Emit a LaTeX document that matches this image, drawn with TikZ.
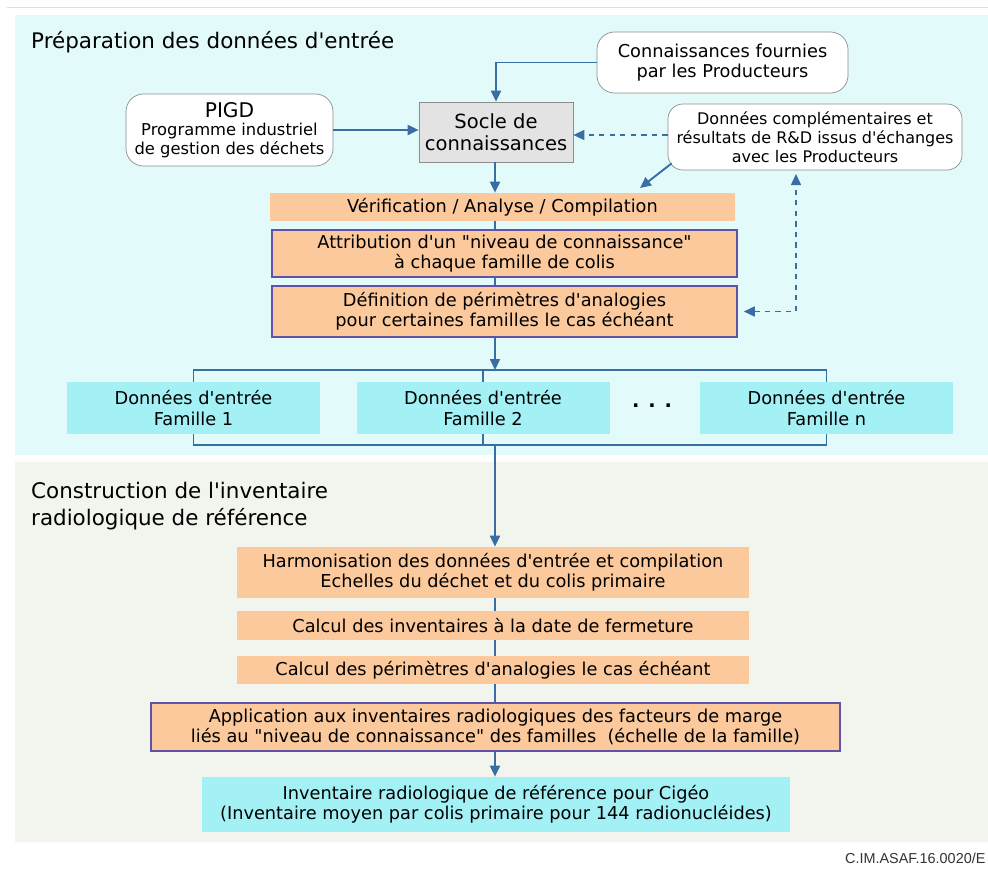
\documentclass[tikz,border=0pt]{standalone}
\usepackage{fontspec}
\setmainfont{DejaVu Sans}[Ligatures=TeXOff]
\setsansfont{Liberation Sans}
\definecolor{flowblue}{rgb}{0.22, 0.43, 0.64}
\definecolor{panelcyan}{rgb}{0.89, 0.98, 0.98}
\definecolor{panelgrey}{rgb}{0.95, 0.96, 0.93}
\definecolor{stepfill}{rgb}{0.99, 0.79, 0.61}
\definecolor{datafill}{rgb}{0.64, 0.94, 0.96}
\definecolor{edgepurple}{rgb}{0.38, 0.32, 0.66}
\usetikzlibrary{arrows.meta,positioning}
\tikzset{
	source/.style={
		rectangle,
		rounded corners=3.5mm,
		draw=black!45,
		fill=white,
		align=center,
		font=\fontsize{10.1}{11.6}\selectfont
	},
	socle/.style={
		rectangle,
		draw=black!45,
		fill=black!11,
		align=center,
		minimum width=3cm,
		minimum height=1.2cm,
		font=\fontsize{11.1}{12.8}\selectfont
	},
	stepbox/.style={
		rectangle,
		fill=stepfill,
		align=center,
		inner sep=0pt,
		font=\fontsize{10.1}{11.6}\selectfont
	},
	framed/.style={
		stepbox,
		draw=edgepurple,
		line width=0.9pt
	},
	databox/.style={
		rectangle,
		fill=datafill,
		align=center,
		inner sep=0pt,
		font=\fontsize{10.1}{11.6}\selectfont
	},
	arrow/.style={
		draw=flowblue,
		line width=1.1pt,
		-{Triangle[length=2.2mm,width=2mm]}
	},
	dasharrow/.style={
		arrow,
		dashed,
		line width=0.9pt
	},
	link/.style={
		draw=flowblue,
		line width=0.9pt
	},
	title/.style={
		anchor=west,
		align=left,
		font=\fontsize{12.2}{15.4}\selectfont
	},
}

\begin{document}
\begin{tikzpicture}
	\useasboundingbox (0,0) rectangle (19.76,-17.4);
	\fill[panelcyan] (0.3,-0.3) rectangle (19.76,-9.1);
	\fill[panelgrey] (0.3,-9.24) rectangle (19.76,-16.84);
	\draw[black!12] (0.15,-0.15) -- (19.76,-0.15);

	% preparation des donnees
	\node (titreprep) [title] at (0.5,-0.84) {Préparation des données d'entrée};
	\node (conn) [source,minimum width=5.02cm,minimum height=1.22cm] at (14.45,-1.25) {Connaissances fournies\\par les Producteurs};
	\node (socle) [socle] at (9.92,-2.64) {Socle de\\connaissances};
	\node (pigd) [source,minimum width=4.14cm,minimum height=1.44cm,font=\fontsize{9.3}{10.6}\selectfont] at (4.59,-2.6) {{\fontsize{11.5}{12.4}\selectfont PIGD}\\Programme industriel\\de gestion des déchets};
	\node (compl) [source,minimum width=5.88cm,minimum height=1.32cm,rounded corners=3mm,font=\fontsize{9.1}{10.8}\selectfont] at (16.3,-2.74) {Données complémentaires et\\résultats de R\&D issus d'échanges\\avec les Producteurs};
	\node (verif) [stepbox,minimum width=9.3cm,minimum height=0.56cm] at (10.05,-4.14) {Vérification / Analyse / Compilation};
	\node (attrib) [framed,minimum width=9.3cm,minimum height=0.94cm] at (10.09,-5.07) {Attribution d'un "niveau de connaissance"\\à chaque famille de colis};
	\node (defin) [framed,minimum width=9.3cm,minimum height=1.02cm] at (10.09,-6.23) {Définition de périmètres d'analogies\\pour certaines familles le cas échéant};

	\draw [arrow] (conn.west) -| (socle.north);
	\draw [arrow] (pigd.east) -- (pigd.east -| socle.west);
	\draw [dasharrow] (compl.west |- 0,-2.7) -- (socle.east |- 0,-2.7);
	\coordinate (tipverif) at (12.8,-3.76);
	\draw [arrow] ([xshift=0.08cm,yshift=0.14cm]compl.south west) -- (tipverif);
	\draw [arrow] (socle.south -| 9.9,0) -- (verif.north -| 9.9,0);
	\draw [link] (verif.south -| 9.9,0) -- (attrib.north -| 9.9,0);
	\draw [link] (attrib.south -| 9.9,0) -- (defin.north -| 9.9,0);
	\coordinate (retour) at (15.92,-3.48);
	\draw [dasharrow,{Triangle[length=2.2mm,width=2mm]}-{Triangle[length=2.2mm,width=2mm]},shorten <=1.2mm] (defin.east) -| (retour);

	% familles de colis
	\node (fam1) [databox,minimum width=5.06cm,minimum height=1.04cm] at (3.87,-8.16) {Données d'entrée\\Famille 1};
	\node (fam2) [databox,minimum width=5.06cm,minimum height=1.04cm] at (9.66,-8.16) {Données d'entrée\\Famille 2};
	\node (famn) [databox,minimum width=5.06cm,minimum height=1.04cm] at (16.53,-8.16) {Données d'entrée\\Famille n};
	\node (dots) at (13.04,-8.12) {\bfseries\fontsize{11}{12}\selectfont . . .};

	\coordinate (haut) at (9.9,-7.4);
	\coordinate (bas) at (9.9,-8.9);
	\draw [arrow] (defin.south -| haut) -- (haut);
	\draw [link] (fam1.north) |- (haut) -| (famn.north);
	\draw [link] (fam2.north) -- (fam2.north |- haut);
	\draw [link] (fam1.south) |- (bas) -| (famn.south);
	\draw [link] (fam2.south) -- (fam2.south |- bas);

	% construction de l'inventaire
	\node (titreinv) [title] at (0.5,-10.12) {Construction de l'inventaire\\radiologique de référence};
	\node (harmon) [stepbox,minimum width=10.24cm,minimum height=1.02cm] at (9.86,-11.45) {Harmonisation des données d'entrée et compilation\\Echelles du déchet et du colis primaire};
	\node (calcinv) [stepbox,minimum width=10.24cm,minimum height=0.58cm] at (9.86,-12.51) {Calcul des inventaires à la date de fermeture};
	\node (calcper) [stepbox,minimum width=10.24cm,minimum height=0.56cm] at (9.86,-13.4) {Calcul des périmètres d'analogies le cas échéant};
	\node (appli) [framed,minimum width=13.78cm,minimum height=0.96cm] at (9.91,-14.54) {Application aux inventaires radiologiques des facteurs de marge\\liés au "niveau de connaissance" des familles~ (échelle de la famille)};
	\node (invent) [databox,minimum width=11.76cm,minimum height=1.1cm] at (9.92,-16.09) {Inventaire radiologique de référence pour Cigéo\\(Inventaire moyen par colis primaire pour 144 radionucléides)};

	\draw [arrow] (bas) -- (harmon.north -| bas);
	\draw [link] (harmon.south -| bas) -- (calcinv.north -| bas);
	\draw [link] (calcinv.south -| bas) -- (calcper.north -| bas);
	\draw [link] (calcper.south -| bas) -- (appli.north -| bas);
	\draw [arrow] (appli.south -| bas) -- (invent.north -| bas);

	\node (ref) [anchor=west,font=\sffamily\fontsize{8.2}{9}\selectfont,text=black!80] at (16.78,-17.16) {C.IM.ASAF.16.0020/E};
\end{tikzpicture}
\end{document}
